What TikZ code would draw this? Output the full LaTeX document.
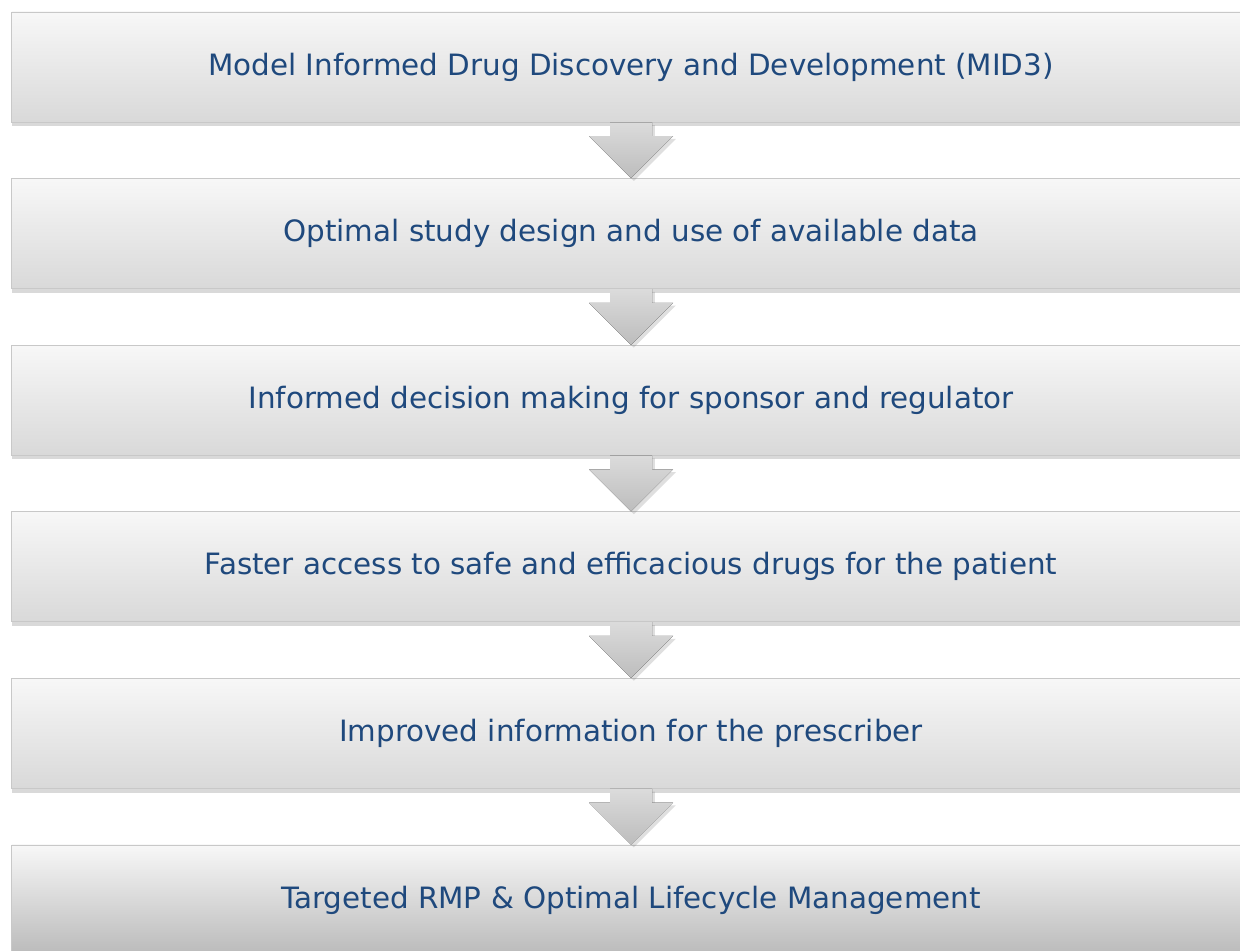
\documentclass[tikz,border=0pt]{standalone}
\usepackage{fontspec}
\setmainfont{DejaVu Sans}
\usetikzlibrary{calc,positioning,shadows}

\definecolor{stagetext}{HTML}{1F497D}
\definecolor{stageline}{HTML}{C8C8C8}

\begin{document}
\begin{tikzpicture}[
    x=0.025cm, y=-0.025cm,
    stage/.style={draw=stageline, line width=0.6pt, top color=black!3, bottom color=black!15,
                  minimum width=30.95cm, minimum height=2.75cm, inner sep=0pt,
                  text=stagetext, font=\fontsize{20.9}{24}\selectfont,
                  drop shadow={shadow xshift=0pt, shadow yshift=-3pt, opacity=0.3}},
    flow/.style={top color=black!14, bottom color=black!26,
                 drop shadow={shadow xshift=2pt, shadow yshift=-2pt, opacity=0.25}},
  ]

  % ---------------- page --------------------------------------------------
  \useasboundingbox (0,0) rectangle (1240,951);

  % ---------------- the six stages, one under the other ---------------------
  \foreach \i/\txt in {1/Model Informed Drug Discovery and Development (MID3),
                       2/Optimal study design and use of available data,
                       3/Informed decision making for sponsor and regulator,
                       4/Faster access to safe and efficacious drugs for the patient,
                       5/Improved information for the prescriber}
    \node[stage] (s\i) at (631,{67+166.6*(\i-1)}) {\txt};
  \node[stage, bottom color=black!27] (s6) at (631,900) {Targeted RMP \& Optimal Lifecycle Management};

  % ---------------- block arrows between the stages -------------------------
  \foreach \i [evaluate=\i as \j using int(\i+1)] in {1,...,5}
    \fill[flow] ($(s\i.south)+(-21,0)$) -- ($(s\i.south)+(21,0)$)
                -- ($(s\j.north)+(21,-42)$) -- ($(s\j.north)+(42,-42)$)
                -- (s\j.north)
                -- ($(s\j.north)+(-42,-42)$) -- ($(s\j.north)+(-21,-42)$) -- cycle;

\end{tikzpicture}
\end{document}
